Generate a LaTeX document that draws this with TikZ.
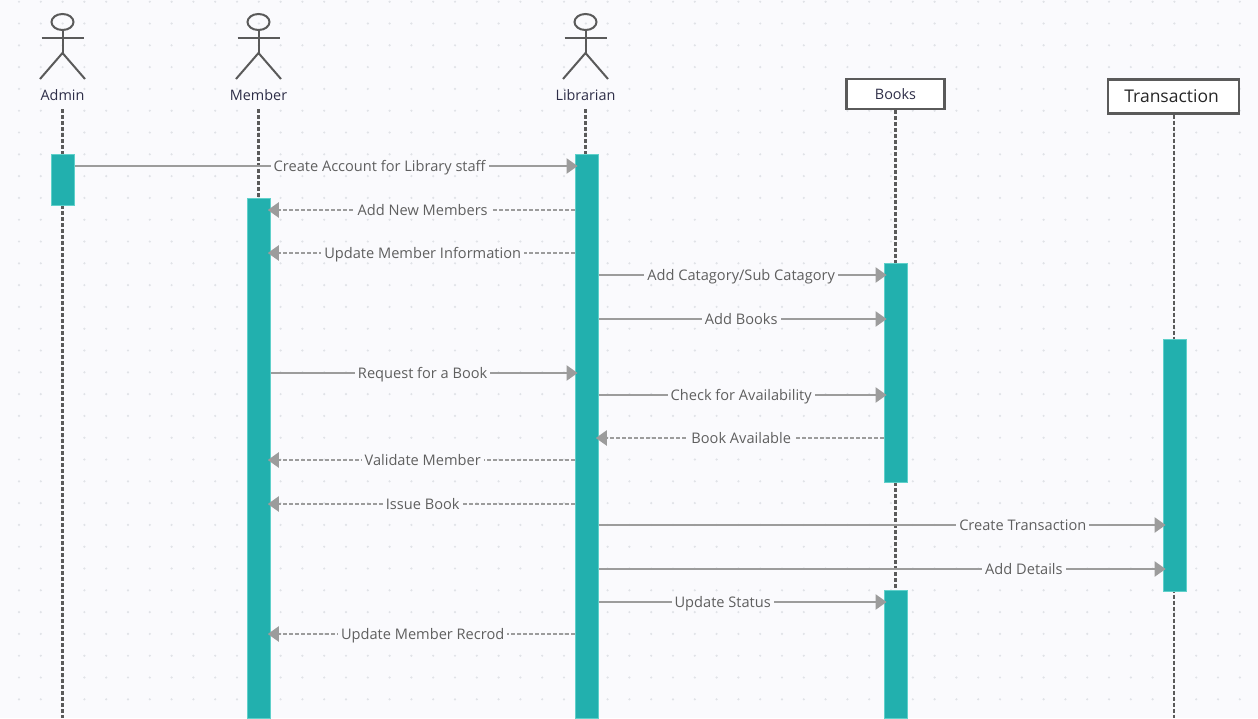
\documentclass[tikz,border=0pt]{standalone}
\usepackage{fontspec}
\setmainfont{Open Sans}
\usetikzlibrary{arrows.meta}
\definecolor{paper}{HTML}{FAFAFD}
\definecolor{griddot}{HTML}{E0E2E7}
\definecolor{barfill}{HTML}{22B0AE}
\definecolor{barline}{HTML}{5FD0CA}
\definecolor{inkdark}{HTML}{5A5A5A}
\definecolor{msgline}{HTML}{9C9C9C}
\definecolor{msgtext}{HTML}{5F5F5F}
\definecolor{headtext}{HTML}{2E2E48}
\tikzset{
    actorline/.style={draw=inkdark,line width=2pt},
    actorlabel/.style={inner sep=0pt,minimum height=28pt,text=headtext,font=\fontsize{14.4}{16}\selectfont},
    classbox/.style={draw=inkdark,line width=2.2pt,fill=white,inner sep=0pt,text=headtext},
    lifeline/.style={draw=inkdark,line width=2.2pt,dash pattern=on 4pt off 2pt},
    activebar/.style={draw=barline,line width=.6pt,fill=barfill,inner sep=0pt,minimum width=23.5pt},
    msgsolid/.style={draw=msgline,line width=2pt,shorten >=-3pt,-{Triangle[length=11pt,width=15pt]}},
    msgdash/.style={msgsolid,dash pattern=on 4pt off 2pt},
    msglabel/.style={fill=paper,text=msgtext,inner xsep=3pt,inner ysep=1pt,text height=12pt,text depth=2pt,font=\fontsize{14.6}{16}\selectfont}
}
\begin{document}
\begin{tikzpicture}[x=1pt,y=-1pt]
    \useasboundingbox (0,0) rectangle (1258,718);
    \fill[paper] (0,0) rectangle (1258,718);
    \foreach \x in {0,...,57}
        \foreach \y in {0,...,32}
            \fill[griddot] (19+\x*21.8,1.7+\y*21.8) circle (1.2pt);
    % actors and boxes
    \foreach \name/\x/\txt in {admin/62.5/Admin,member/258.5/Member,librarian/585.5/Librarian}
    {
        \draw[actorline] (\x,22) ellipse (11 and 8);
        \draw[actorline] (\x,30) -- (\x,53) (\x-21,38) -- (\x+21,38);
        \draw[actorline] (\x-22.5,79) -- (\x,53) -- (\x+22.5,79);
        \node[actorlabel] (\name) at (\x,95) {\txt};
    }
    \node[classbox,minimum width=98pt,minimum height=30pt,font=\fontsize{14.4}{16}\selectfont] (books) at (895.5,94) {Books};
    \node[classbox,minimum width=131pt,minimum height=34pt,font=\fontsize{17.5}{20}\selectfont,text=black!85] (transaction) at (1173.6,96.5) {\hspace{-4pt}Transaction};
    % lifelines
    \foreach \name in {admin,member,librarian,books,transaction}
        \draw[lifeline] (\name.south) -- (\name.south |- 0,718);
    % activation bars
    \foreach \name/\x/\yc/\h in {adminbar/62.7/180/51.5,memberbar/258.7/458/520,librarianbar/586.7/436/564,booksbar/895.7/373/219.5,statusbar/895.7/654/128,transbar/1174.7/465.5/252.5}
        \node[activebar,minimum height=\h pt] (\name) at (\x,\yc) {};
    % messages to the right
    \foreach \from/\to/\y/\p/\txt [count=\i] in {
        adminbar/librarianbar/166/.61/Create Account for Library staff,
        librarianbar/booksbar/275/.5/{Add Catagory/Sub Catagory},
        librarianbar/booksbar/319/.5/Add Books,
        memberbar/librarianbar/373/.5/Request for a Book,
        librarianbar/booksbar/395/.5/Check for Availability,
        librarianbar/transbar/525/.752/Create Transaction,
        librarianbar/transbar/569/.754/Add Details,
        librarianbar/statusbar/602/.435/Update Status}
        \draw[msgsolid] (\from.east |- 0,\y) -- node[msglabel,pos=\p] (right\i) {\txt} (\to.west |- 0,\y);
    % replies to the left
    \foreach \from/\to/\y/\txt [count=\i] in {
        librarianbar/memberbar/210/Add New Members,
        librarianbar/memberbar/253/Update Member Information,
        booksbar/librarianbar/438/Book Available,
        librarianbar/memberbar/460/Validate Member,
        librarianbar/memberbar/504/Issue Book,
        librarianbar/memberbar/634/Update Member Recrod}
        \draw[msgdash] (\from.west |- 0,\y) -- node[msglabel] (left\i) {\txt} (\to.east |- 0,\y);
\end{tikzpicture}
\end{document}
